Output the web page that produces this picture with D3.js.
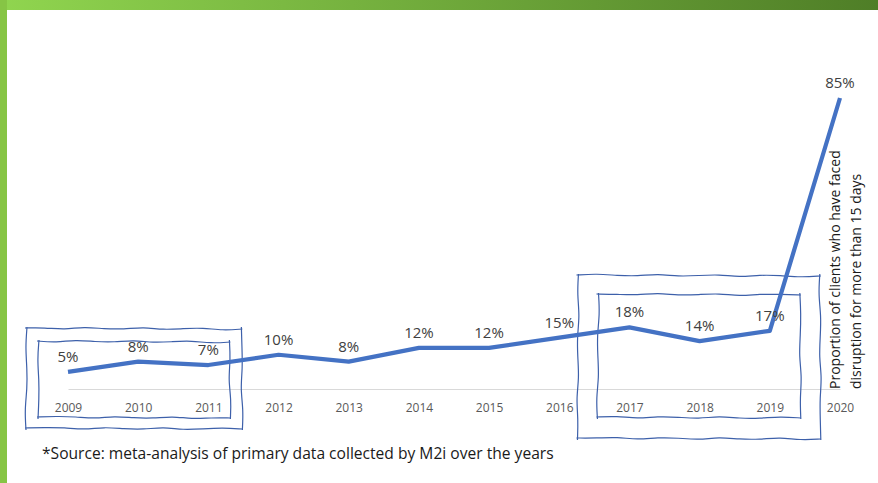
<!DOCTYPE html>
<html lang="en">
<head>
<meta charset="utf-8">
<title>Disruption over 15 days</title>
<script src="https://d3js.org/d3.v7.min.js"></script>
<style>
body { margin: 0; background: #fff; }
svg { display: block; font-family: "Open Sans", "Liberation Sans", Arial, sans-serif; }
</style>
</head>
<body>
<div id="chart"></div>
<script>
var years = ["2009", "2010", "2011", "2012", "2013", "2014", "2015", "2016", "2017", "2018", "2019", "2020"];
var shares = [5, 8, 7, 10, 8, 12, 12, 15, 18, 14, 17, 85];
var titleLines = ["Proportion of clients who have faced", "disruption for more than 15 days"];
var note = "*Source: meta-analysis of primary data collected by M2i over the years";
// groups highlighted with hand drawn frames
var groups = [["2009", "2011"], ["2017", "2019"]];

var width = 878, height = 483;

var svg = d3.select("#chart").append("svg")
    .attr("width", width)
    .attr("height", height);

// green slide frame
var grad = svg.append("defs").append("linearGradient")
    .attr("id", "bar").attr("x1", "0").attr("x2", "1");
grad.append("stop").attr("offset", "0").attr("stop-color", "#90d54f");
grad.append("stop").attr("offset", "1").attr("stop-color", "#4f7e27");
svg.append("rect").attr("x", 0).attr("y", 0).attr("width", width).attr("height", 10).attr("fill", "url(#bar)");
svg.append("rect").attr("x", 0).attr("y", 0).attr("width", 7).attr("height", height).attr("fill", "#86c545");

var x = d3.scalePoint().domain(years).range([68, 840]);
var y = d3.scaleLinear().domain([0, 85]).range([389, 98]);

// axis
var axis = svg.append("g")
    .attr("transform", "translate(0," + y(0) + ")")
    .call(d3.axisBottom(x).tickSize(0).tickSizeOuter(0).tickPadding(14));
axis.select(".domain").attr("stroke", "#d9d9d9").attr("stroke-width", 1);
axis.selectAll("text")
    .attr("font-size", 12)
    .attr("fill", "#595959")
    .attr("font-family", "Open Sans, Liberation Sans, sans-serif");

// hand drawn frames
function wobble(x0, y0, x1, y1, seed) {
    var pts = [];
    var n = Math.max(3, Math.round(Math.hypot(x1 - x0, y1 - y0) / 20));
    for (var i = 0; i <= n; i++) {
        var t = i / n;
        var d = (i === 0 || i === n) ? 0 : 1.5 * Math.sin(seed * 3.7 + i * 2.3);
        var nx = -(y1 - y0), ny = x1 - x0, len = Math.hypot(nx, ny);
        pts.push([x0 + (x1 - x0) * t + d * nx / len, y0 + (y1 - y0) * t + d * ny / len]);
    }
    return pts;
}
var sketch = d3.line().curve(d3.curveBasis);
function frame(l, t, r, b, seed) {
    var sides = [
        wobble(l - 1, t, r + 1, t + 1, seed),
        wobble(r, t - 1, r + 1, b + 1, seed + 1),
        wobble(r + 1, b, l - 1, b - 1, seed + 2),
        wobble(l, b + 1, l + 1, t - 1, seed + 3)
    ];
    sides.forEach(function (s) {
        svg.append("path")
            .attr("d", sketch(s))
            .attr("fill", "none")
            .attr("stroke", "#3d60aa")
            .attr("stroke-width", 1.2);
    });
}
var g0 = groups[0], g1 = groups[1];
frame(x(g0[0]) - 42, y(0) - 61, x(g0[1]) + 33, y(0) + 40, 1);
frame(x(g0[0]) - 30, y(0) - 48, x(g0[1]) + 21, y(0) + 29, 5);
frame(x(g1[0]) - 52, y(0) - 114, x(g1[1]) + 50, y(0) + 50, 9);
frame(x(g1[0]) - 32, y(0) - 95, x(g1[1]) + 30, y(0) + 29, 13);

// series
var line = d3.line()
    .x(function (d, i) { return x(years[i]); })
    .y(function (d) { return y(d); });
svg.append("path")
    .datum(shares)
    .attr("d", line)
    .attr("fill", "none")
    .attr("stroke", "#4472c4")
    .attr("stroke-width", 4.2)
    .attr("stroke-linejoin", "round");

svg.selectAll(".lbl")
    .data(shares)
    .enter().append("text")
    .attr("class", "lbl")
    .attr("x", function (d, i) { return x(years[i]); })
    .attr("y", function (d) { return y(d) - 10; })
    .attr("text-anchor", "middle")
    .attr("font-size", 15)
    .attr("fill", "#404040")
    .text(function (d) { return d + "%"; });

// rotated title
var title = svg.append("text")
    .attr("transform", "translate(840," + y(0) + ") rotate(-90)")
    .attr("font-size", 14)
    .attr("fill", "#1a1a1a");
titleLines.forEach(function (t, i) {
    title.append("tspan").attr("x", 0).attr("y", i * 21).text(t);
});

svg.append("text")
    .attr("x", 42)
    .attr("y", 459)
    .attr("font-size", 15.6)
    .attr("fill", "#1a1a1a")
    .text(note);
</script>
</body>
</html>
